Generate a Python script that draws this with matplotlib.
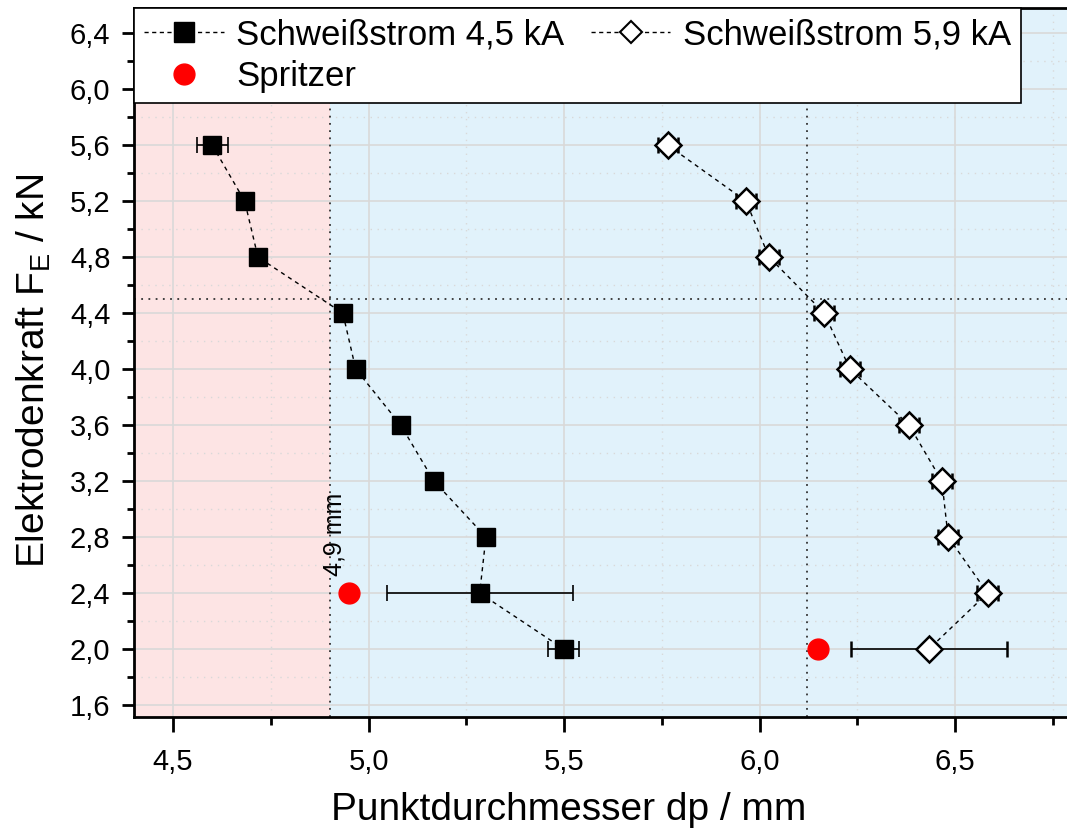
import matplotlib
matplotlib.use('Agg')
import matplotlib.pyplot as plt
from matplotlib.ticker import MultipleLocator, FuncFormatter
from matplotlib.lines import Line2D

plt.rcParams['font.family'] = ['Liberation Sans', 'DejaVu Sans']
plt.rcParams['mathtext.default'] = 'regular'

# Elektrodenkraft / kN
force = [5.6, 5.2, 4.8, 4.4, 4.0, 3.6, 3.2, 2.8, 2.4, 2.0]

# Schweissstrom 4,5 kA
dp_45 = [4.60, 4.683, 4.717, 4.934, 4.967, 5.082, 5.167, 5.30, 5.284, 5.499]
err_45 = [0.04, 0.0, 0.0, 0.0, 0.0, 0.0, 0.0, 0.0, 0.238, 0.04]

# Schweissstrom 5,9 kA
dp_59 = [5.765, 5.965, 6.024, 6.165, 6.231, 6.382, 6.466, 6.482, 6.583, 6.433]
err_59 = [0.026, 0.026, 0.026, 0.026, 0.026, 0.026, 0.026, 0.026, 0.026, 0.20]

# Spritzer
spr_dp = [4.95, 6.15]
spr_force = [2.4, 2.0]

dp_limit = 4.9
dp_limit2 = 6.12
force_limit = 4.5

fig = plt.figure(figsize=(10.67, 8.30), dpi=100)
ax = fig.add_axes([0.1256, 0.1361, 0.8744, 0.8543])

xmin, xmax = 4.4, 6.786
ymin, ymax = 1.514, 6.58
ax.set_xlim(xmin, xmax)
ax.set_ylim(ymin, ymax)

ax.axvspan(xmin, dp_limit, color='#fde4e4', zorder=0, lw=0)
ax.axvspan(dp_limit, xmax, color='#e1f2fb', zorder=0, lw=0)

ax.xaxis.set_major_locator(MultipleLocator(0.5))
ax.xaxis.set_minor_locator(MultipleLocator(0.25))
ax.yaxis.set_major_locator(MultipleLocator(0.4))
ax.yaxis.set_minor_locator(MultipleLocator(0.2))
fmt = lambda v, p: ('%.1f' % v).replace('.', ',')
ax.xaxis.set_major_formatter(FuncFormatter(fmt))
ax.yaxis.set_major_formatter(FuncFormatter(fmt))

ax.grid(which='major', color='#d9d9d9', lw=1.2, zorder=1)
ax.grid(which='minor', color='#d9d9d9', lw=1.0, ls=(0, (1, 4)), zorder=1)
ax.set_axisbelow(True)

ax.axvline(dp_limit, color='#333333', ls=(0, (1, 3)), lw=1.3, zorder=2)
ax.axvline(dp_limit2, color='#333333', ls=(0, (1, 3)), lw=1.3, zorder=2)
ax.axhline(force_limit, color='#333333', ls=(0, (1, 3)), lw=1.3, zorder=2)

ax.errorbar(dp_45, force, xerr=err_45, fmt='s', color='black', ms=13.5,
            mfc='black', mec='black', ls=(0, (3, 3)), lw=1.0,
            ecolor='black', elinewidth=1.2, capsize=6, capthick=1.2, zorder=4)
ax.errorbar(dp_59, force, xerr=err_59, fmt='D', color='black', ms=13,
            mfc='white', mec='black', mew=1.8, ls=(0, (3, 3)), lw=1.0,
            ecolor='black', elinewidth=1.2, capsize=6, capthick=1.2, zorder=4)
ax.plot(spr_dp, spr_force, 'o', color='red', ms=15, ls='none', zorder=5)

ax.text(dp_limit + 0.013, 2.52, '4,9 mm', rotation=90, fontsize=18,
        ha='center', va='bottom', zorder=6)

for s in ['left', 'bottom', 'top']:
    ax.spines[s].set_linewidth(2)
ax.spines['right'].set_visible(False)
ax.tick_params(which='major', direction='out', width=2, labelsize=21)
ax.tick_params(axis='x', which='major', length=11, pad=11)
ax.tick_params(axis='y', which='major', length=9, pad=8)
ax.tick_params(axis='x', which='minor', direction='out', length=6, width=2)
ax.tick_params(axis='y', which='minor', direction='out', length=5, width=2)

ax.set_xlabel('Punktdurchmesser dp / mm', fontsize=28, labelpad=12)
ax.xaxis.label.set_x(0.466)
ax.set_ylabel('Elektrodenkraft F$_E$ / kN', fontsize=28, labelpad=12)
ax.yaxis.label.set_y(0.489)

# legend handles: line + marker only, no error bars
lh1 = Line2D([], [], color='black', ls=(0, (3, 2.5)), lw=1.0, marker='s', ms=14,
             mfc='black', mec='black')
lh2 = Line2D([], [], color='black', ls=(0, (3, 2.5)), lw=1.0, marker='D', ms=11,
             mfc='white', mec='black', mew=1.5)
lh3 = Line2D([], [], color='red', ls='none', marker='o', ms=15)
leg = ax.legend([lh1, lh3, lh2], ['Schweißstrom 4,5 kA', 'Spritzer', 'Schweißstrom 5,9 kA'],
                ncol=2, loc='upper left', bbox_to_anchor=(0, 1), borderaxespad=0,
                fontsize=25, frameon=True, fancybox=False, edgecolor='black',
                framealpha=1, handlelength=2.3, handletextpad=0.35,
                columnspacing=0.75, borderpad=0.3, labelspacing=0.25)
leg.get_frame().set_linewidth(1.2)
leg.set_zorder(10)

fig.savefig('out.png', dpi=100)
